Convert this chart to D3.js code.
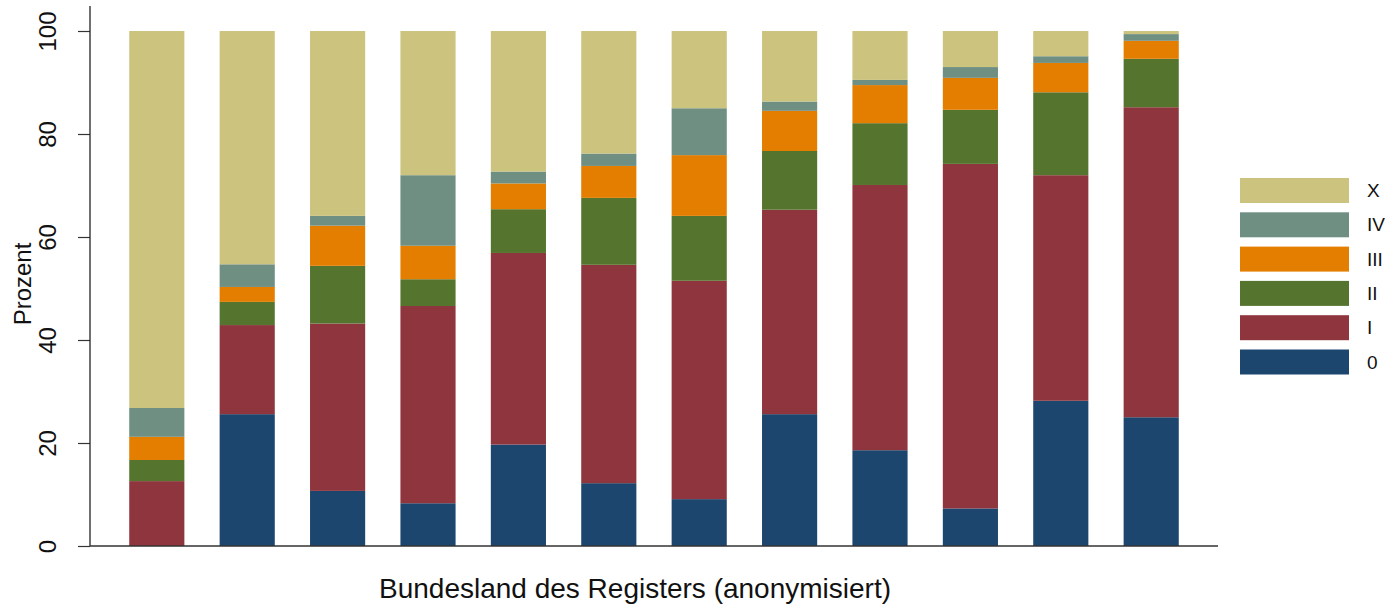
<!DOCTYPE html>
<html>
<head>
<meta charset="utf-8">
<script src="https://cdn.jsdelivr.net/npm/d3@7"></script>
<style>
  body { margin: 0; background: #fff; }
  text { font-family: "Liberation Sans", Arial, sans-serif; fill: #111; }
</style>
</head>
<body>
<div id="plot"></div>
<script>
// Categories (anonymised states) and stage keys, bottom to top
const states = ["1", "2", "3", "4", "5", "6", "7", "8", "9", "10", "11", "12"];
const stages = ["0", "I", "II", "III", "IV", "X"];

// Percent per stage, one value per state
const stage0   = [0.0, 25.6, 10.7, 8.3, 19.7, 12.2, 9.1, 25.6, 18.6, 7.3, 28.2, 25.0];
const stageI   = [12.6, 17.3, 32.5, 38.3, 37.2, 42.4, 42.4, 39.7, 51.5, 66.9, 43.8, 60.2];
const stageII  = [4.1, 4.5, 11.2, 5.2, 8.5, 13.0, 12.6, 11.4, 12.0, 10.5, 16.1, 9.4];
const stageIII = [4.5, 2.9, 7.8, 6.5, 5.0, 6.2, 11.8, 7.8, 7.4, 6.2, 5.7, 3.5];
const stageIV  = [5.6, 4.4, 1.9, 13.7, 2.3, 2.4, 9.1, 1.8, 1.0, 2.1, 1.3, 1.3];
const stageX   = [73.2, 45.3, 35.9, 28.0, 27.3, 23.8, 15.0, 13.7, 9.5, 7.0, 4.9, 0.6];

const yTicks = [0, 20, 40, 60, 80, 100];

const colors = {
    "0": "#1c466e",
    "I": "#8f353e",
    "II": "#55752f",
    "III": "#e37e00",
    "IV": "#6f8f82",
    "X": "#ccc37f"
};

const width = 1389, height = 605;
const plot = {left: 90, right: 1218, top: 6, bottom: 546};

// Build rows for the stack
const series = {"0": stage0, "I": stageI, "II": stageII, "III": stageIII, "IV": stageIV, "X": stageX};
const data = states.map((s, i) => {
    const row = {state: s};
    stages.forEach(k => { row[k] = series[k][i]; });
    return row;
});
const stacked = d3.stack().keys(stages)(data);

const x = d3.scaleBand()
    .domain(states)
    .range([plot.left, plot.right])
    .paddingInner(0.39)
    .paddingOuter(0.434);

const y = d3.scaleLinear()
    .domain([0, 100])
    .range([plot.bottom, 31]);

const svg = d3.select("#plot")
    .append("svg")
    .attr("width", width)
    .attr("height", height);

// Bars
svg.append("g")
    .selectAll("g")
    .data(stacked)
    .join("g")
    .attr("fill", d => colors[d.key])
    .selectAll("rect")
    .data(d => d)
    .join("rect")
    .attr("x", d => x(d.data.state))
    .attr("width", x.bandwidth())
    .attr("y", d => y(d[1]))
    .attr("height", d => y(d[0]) - y(d[1]));

// Y axis
const yAxis = svg.append("g")
    .attr("transform", `translate(${plot.left},0)`)
    .call(d3.axisLeft(y).tickValues(yTicks).tickSize(12).tickPadding(22));
yAxis.select(".domain").remove();
yAxis.selectAll(".tick line").attr("stroke", "#333").attr("stroke-width", 1.2);
yAxis.selectAll(".tick text")
    .attr("transform", "rotate(-90)")
    .attr("x", 0)
    .attr("y", -34)
    .attr("dy", "0")
    .attr("text-anchor", "middle")
    .style("font-size", "24px")
    .style("font-family", "'Liberation Sans', Arial, sans-serif")
    .attr("fill", "#111");

svg.append("line")
    .attr("x1", plot.left).attr("x2", plot.left)
    .attr("y1", plot.top).attr("y2", plot.bottom)
    .attr("stroke", "#222").attr("stroke-width", 1.3);

// X baseline
svg.append("line")
    .attr("x1", plot.left).attr("x2", plot.right)
    .attr("y1", plot.bottom).attr("y2", plot.bottom)
    .attr("stroke", "#333").attr("stroke-width", 1.3);

// Axis titles
svg.append("text")
    .attr("transform", `translate(31,${(plot.top + plot.bottom) / 2 + 8}) rotate(-90)`)
    .attr("text-anchor", "middle")
    .style("font-size", "24px")
    .text("Prozent");

svg.append("text")
    .attr("x", 635)
    .attr("y", 598)
    .attr("text-anchor", "middle")
    .style("font-size", "28px")
    .text("Bundesland des Registers (anonymisiert)");

// Legend, top entry is X
const legend = svg.append("g")
    .selectAll("g")
    .data(stages.slice().reverse())
    .join("g")
    .attr("transform", (d, i) => `translate(1240,${178 + i * 34.3})`);

legend.append("rect")
    .attr("width", 109)
    .attr("height", 25)
    .attr("fill", d => colors[d]);

legend.append("text")
    .attr("x", 127)
    .attr("y", 12.5)
    .attr("dy", "0.35em")
    .style("font-size", "19px")
    .text(d => d);
</script>
</body>
</html>
